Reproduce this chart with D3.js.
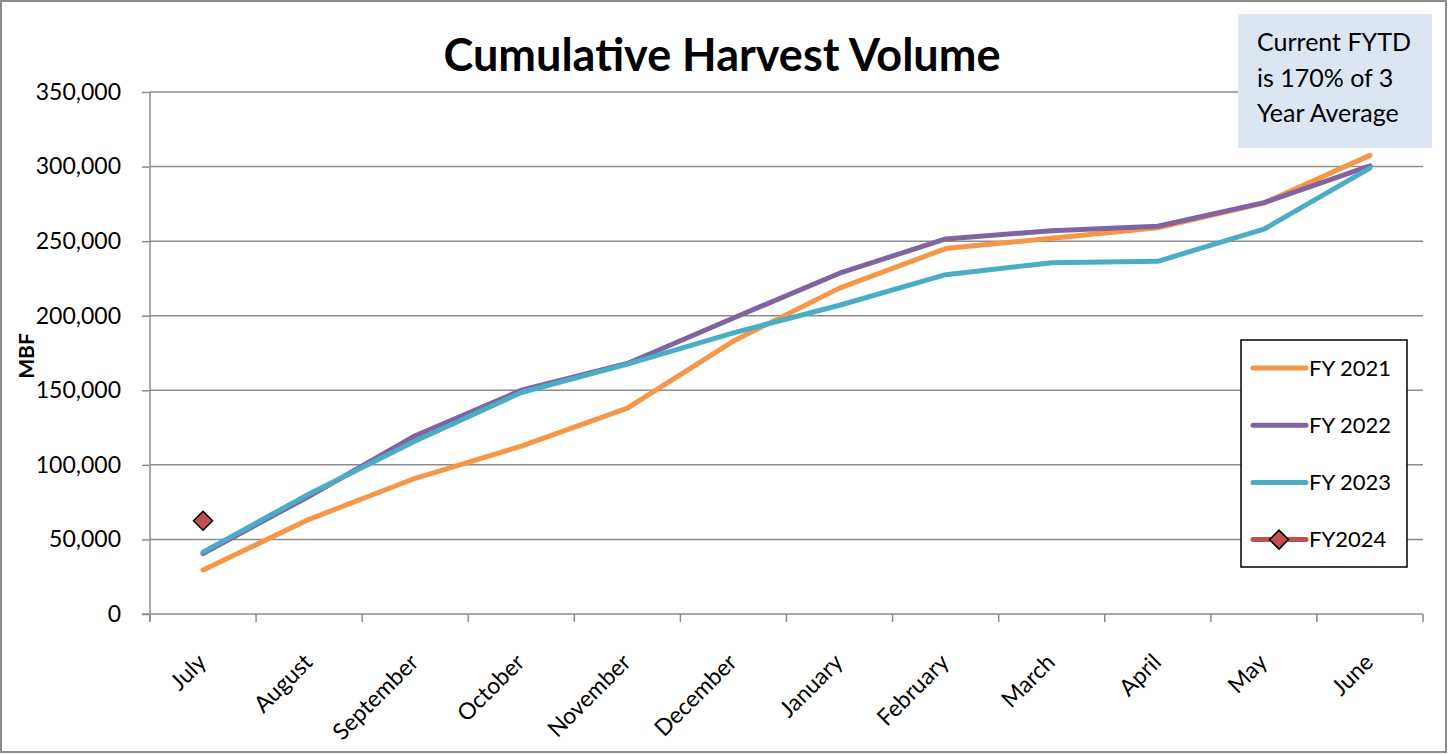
<!DOCTYPE html>
<html><head><meta charset="utf-8">
<script src="https://cdn.jsdelivr.net/npm/d3@7"></script>
<style>
body{margin:0;background:#fff;}
svg text{font-family:'Lato','Noto Sans',sans-serif;fill:#000;}
</style></head>
<body><div id="chart"></div>
<script>
const months = ['July','August','September','October','November','December','January','February','March','April','May','June'];
const fy2021 = [29500,63500,91000,112500,138000,183000,218500,245000,252000,259000,275500,307500];
const fy2022 = [40500,79000,119500,150000,168000,198500,228500,251500,257000,260000,275800,300500];
const fy2023 = [41500,80500,116000,148500,167500,188500,207000,227500,235500,236500,258000,299000];
const fy2024 = [62500];
const yTicks = [0,50000,100000,150000,200000,250000,300000,350000];
const seriesNames = ['FY 2021','FY 2022','FY 2023','FY2024'];
const seriesColors = ['#F79646','#8064A2','#4BACC6','#C0504D'];

const W=1448,H=754, M={l:150,r:25,t:92,b:140};
const svg=d3.select('#chart').append('svg').attr('width',W).attr('height',H);
svg.append('rect').attr('x',1).attr('y',1).attr('width',W-3).attr('height',H-3)
  .attr('fill','#fff').attr('stroke','#8c8c8c').attr('stroke-width',2);

const x=d3.scaleBand().domain(months).range([M.l,W-M.r]);
const y=d3.scaleLinear().domain([0,350000]).range([H-M.b,M.t]);
const cx=m=>x(m)+x.bandwidth()/2;

// gridlines
svg.append('g').selectAll('line').data(yTicks.slice(1)).join('line')
  .attr('x1',M.l).attr('x2',W-M.r).attr('y1',d=>y(d)).attr('y2',d=>y(d))
  .attr('stroke','#8c8c8c').attr('stroke-width',1.5);

// y axis
const gy=svg.append('g').attr('transform',`translate(${M.l},0)`)
  .call(d3.axisLeft(y).tickValues(yTicks).tickFormat(d3.format(',')).tickSize(8).tickPadding(21));
gy.select('.domain').remove();
gy.append('line').attr('x1',0).attr('x2',0).attr('y1',M.t).attr('y2',H-M.b+8).attr('stroke','#8c8c8c').attr('stroke-width',1.5);
gy.selectAll('.tick line').attr('stroke','#8c8c8c').attr('stroke-width',1.5);
gy.selectAll('.tick text').style('font-size','23px').attr('fill','#000');

// x axis
const gx=svg.append('g').attr('transform',`translate(0,${H-M.b})`);
gx.append('line').attr('x1',M.l-8).attr('x2',W-M.r).attr('stroke','#8c8c8c').attr('stroke-width',1.5);
const edges=months.map(m=>x(m)).concat([W-M.r]);
gx.selectAll('line.tk').data(edges).join('line').attr('class','tk')
  .attr('x1',d=>d).attr('x2',d=>d).attr('y1',0).attr('y2',8)
  .attr('stroke','#8c8c8c').attr('stroke-width',1.5);
gx.selectAll('text').data(months).join('text')
  .attr('transform',d=>`translate(${cx(d)-1},${44}) rotate(-45)`)
  .attr('text-anchor','end').attr('dy','0.35em')
  .style('font-size','23px').text(d=>d);

// axis label
svg.append('text').attr('transform','translate(27,356) rotate(-90)')
  .attr('text-anchor','middle').attr('dy','0.35em').style('font-size','21px').style('font-weight','bold').text('MBF');

// title
svg.append('text').attr('x',722).attr('y',71).attr('text-anchor','middle')
  .style('font-size','45px').style('font-weight','bold').text('Cumulative Harvest Volume');

// lines
const line=d3.line().x((d,i)=>cx(months[i])).y(d=>y(d));
[fy2021,fy2022,fy2023].forEach((s,i)=>{
  svg.append('path').datum(s).attr('d',line).attr('fill','none')
    .attr('stroke',seriesColors[i]).attr('stroke-width',5).attr('stroke-linejoin','round').attr('stroke-linecap','round');
});
// FY2024 marker
const diamond=d3.symbol().type(d3.symbolDiamond2).size(230);
svg.append('g').selectAll('path').data(fy2024).join('path')
  .attr('transform',(d,i)=>`translate(${cx(months[i])},${y(d)})`)
  .attr('d',diamond).attr('fill',seriesColors[3]).attr('stroke','#000').attr('stroke-width',1.5);

// annotation box
svg.append('rect').attr('x',1238).attr('y',14).attr('width',194).attr('height',134).attr('fill','#DCE6F2');
['Current FYTD','is 170% of 3','Year Average'].forEach((t,i)=>{
  svg.append('text').attr('x',1257).attr('y',51+i*35.5).style('font-size','25px').text(t);
});

// legend
const lg=svg.append('g');
lg.append('rect').attr('x',1241).attr('y',340).attr('width',166).attr('height',227)
  .attr('fill','#fff').attr('stroke','#000').attr('stroke-width',1.5);
seriesNames.forEach((n,i)=>{
  const yy=368+i*57.2;
  lg.append('line').attr('x1',1253).attr('x2',1306).attr('y1',yy).attr('y2',yy)
    .attr('stroke',seriesColors[i]).attr('stroke-width',5).attr('stroke-linecap','round');
  if(i===3) lg.append('path').attr('transform',`translate(1279,${yy})`).attr('d',diamond)
    .attr('fill',seriesColors[3]).attr('stroke','#000').attr('stroke-width',1.5);
  lg.append('text').attr('x',1309).attr('y',yy).attr('dy','0.35em').style('font-size','22px').text(n);
});
</script></body></html>
